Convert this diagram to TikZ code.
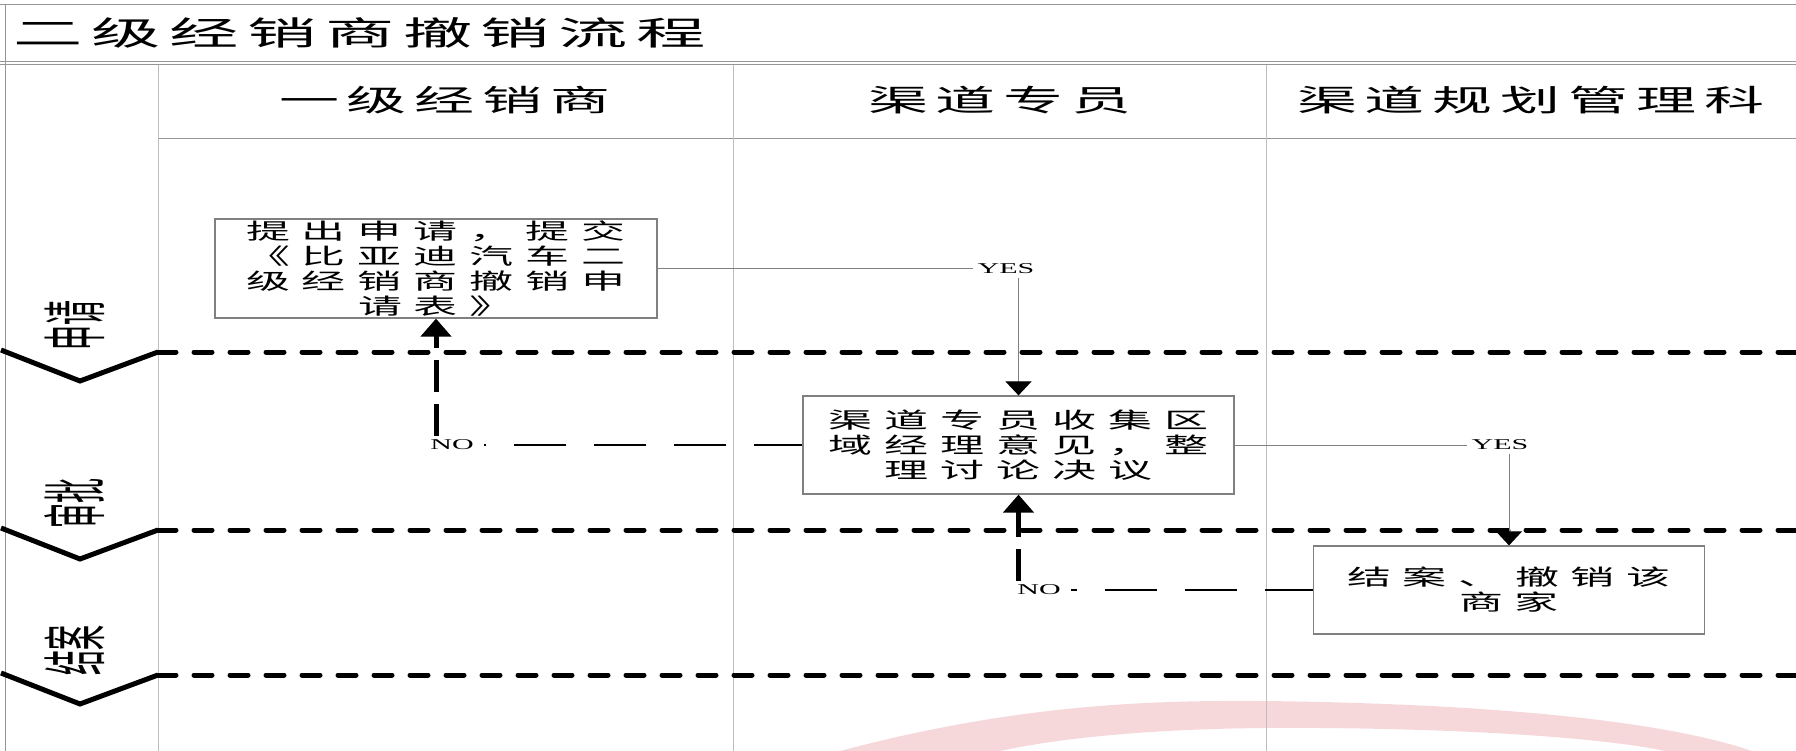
\documentclass[tikz,border=0pt]{standalone}
\usepackage{fontspec}
\setmainfont{Liberation Serif}
\newfontfamily\cjk{Noto Sans CJK SC}
\usepackage{graphicx}
\usetikzlibrary{arrows.meta}

\ExplSyntaxOn
\NewDocumentCommand\cellrow{mm}{\tl_map_inline:nn{#2}{\makebox[#1]{##1}}}
\ExplSyntaxOff
\newcommand\srow[3]{\scalebox{#1}[1]{\cellrow{#2}{#3}}}

\definecolor{wmark}{RGB}{246,216,219}
\definecolor{framegray}{RGB}{150,150,150}
\definecolor{colgray}{RGB}{190,190,190}
\definecolor{boxgray}{RGB}{128,128,128}

\tikzset{
  frameline/.style={draw=framegray, line width=1pt},
  colline/.style={draw=colgray, line width=1pt},
  lanesep/.style={line width=5pt, dash pattern=on 18pt off 18pt, line cap=round},
  chev/.style={line width=5pt, line join=miter},
  lanelabel/.style={inner sep=0pt, font=\fontsize{25}{25}\selectfont\cjk},
  headtext/.style={inner sep=0pt, font=\fontsize{30}{30}\selectfont\cjk},
  procbox/.style={draw=boxgray, line width=1.2pt, align=center, inner sep=0pt,
    font=\fontsize{22}{25}\selectfont\cjk},
  yesno/.style={inner xsep=4pt, inner ysep=4pt, font=\fontsize{15}{15}\selectfont},
  nolabel/.style={inner xsep=10pt, inner ysep=4pt, font=\fontsize{15}{15}\selectfont},
  thinconn/.style={draw=boxgray, line width=1pt},
  thinarrow/.style={thinconn, -{Triangle[width=26pt,length=14pt,color=black]}},
  nodash/.style={line width=2pt, dash pattern=on 52pt off 28pt, dash phase=4pt},
  backarrow/.style={line width=5pt, dash pattern=on 32pt off 12pt,
    -{Triangle[width=30pt,length=18pt]}}
}

\begin{document}
\begin{tikzpicture}[x=1pt,y=-1pt]
\useasboundingbox (0,0) rectangle (1796,751);

% watermark
\fill[wmark] (840,751) .. controls (1010,706) and (1140,700) .. (1262,701)
  .. controls (1450,703) and (1650,716) .. (1752,751) -- (1665,751)
  .. controls (1590,735) and (1420,727) .. (1265,728)
  .. controls (1150,729) and (1060,738) .. (1000,751) -- cycle;

% frame
\draw[frameline] (0,5) -- (1796,5);
\draw[frameline] (0,62) -- (1796,62);
\draw[frameline] (0,65) -- (1796,65);
\draw[frameline] (5,5) -- (5,751);
\draw[frameline] (158,139) -- (1796,139);
\draw[colline] (158,65) -- (158,751);
\draw[colline] (733,65) -- (733,751);
\draw[colline] (1266,65) -- (1266,751);

% lane separators
\draw[lanesep] (158,352) -- (1796,352);
\draw[lanesep] (158,530) -- (1796,530);
\draw[lanesep] (158,675) -- (1796,675);
\draw[chev] (1,350) -- (80,381) -- (158,352);
\draw[chev] (1,528) -- (80,559) -- (158,530);
\draw[chev] (1,673) -- (80,704) -- (158,675);

% lane labels
\node[lanelabel] (lab1) at (75,325) {\scalebox{2.6}[1]{\rotatebox{90}{申请}}};
\node[lanelabel] (lab2) at (75,503) {\scalebox{2.6}[1]{\rotatebox{90}{审批}}};
\node[lanelabel] (lab3) at (75,650) {\scalebox{2.6}[1]{\rotatebox{90}{结案}}};

% title and headers
\node[anchor=west, inner sep=0pt, font=\fontsize{33}{33}\selectfont\cjk] (title) at (9,33)
  {\srow{2.1}{37.1pt}{二级经销商撤销流程}};
\node[headtext] (h1) at (445,100) {\srow{2}{34pt}{一级经销商}};
\node[headtext] (h2) at (1000,100) {\srow{2}{34pt}{渠道专员}};
\node[headtext] (h3) at (1531,100) {\srow{2}{34pt}{渠道规划管理科}};

% process boxes
\node[procbox, minimum width=442pt, minimum height=99pt] (b1) at (436,268.5)
  {\srow{2}{28pt}{提出申请，提交}\\\srow{2}{28pt}{《比亚迪汽车二}\\
   \srow{2}{28pt}{级经销商撤销申}\\\srow{2}{28pt}{请表》}};
\node[procbox, minimum width=431pt, minimum height=98pt] (b2) at (1018.5,445)
  {\srow{2}{28pt}{渠道专员收集区}\\\srow{2}{28pt}{域经理意见，整}\\
   \srow{2}{28pt}{理讨论决议}};
\node[procbox, minimum width=391pt, minimum height=88pt] (b3) at (1509,590)
  {\srow{2}{28pt}{结案、撤销该}\\\srow{2}{28pt}{商家}};

% labels
\node[yesno] (yes1) at (1006,268.5) {\scalebox{2}[1]{YES}};
\node[yesno] (yes2) at (1500,445) {\scalebox{2}[1]{YES}};
\node[nolabel] (no1) at (452,445) {\scalebox{2}[1]{NO}};
\node[nolabel] (no2) at (1039,590) {\scalebox{2}[1]{NO}};

% connectors
\draw[thinconn] (b1.east) -- (yes1.west);
\draw[thinarrow] (yes1.south -| b2.north) -- (b2.north);
\draw[thinconn] (b2.east) -- (yes2.west);
\draw[thinarrow] (yes2.south -| b3.north) -- (b3.north);
\draw[nodash] (b2.west) -- (no1.east);
\draw[backarrow] (no1.north -| b1.south) -- (b1.south);
\draw[nodash] (b3.west) -- (no2.east);
\draw[backarrow] (no2.north -| b2.south) -- (b2.south);
\end{tikzpicture}
\end{document}
